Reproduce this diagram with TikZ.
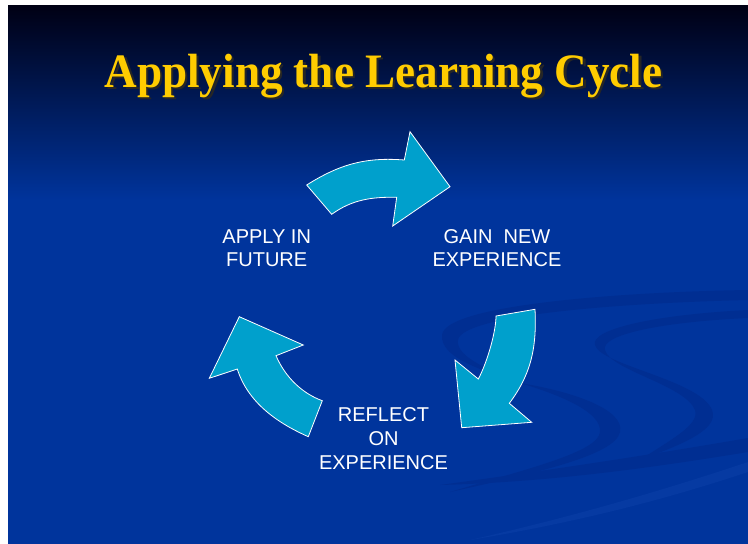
\documentclass[tikz,border=0pt]{standalone}
\usepackage{fontspec}
\setmainfont{Liberation Serif}
\setsansfont{Liberation Sans}
\definecolor{bgblue}{RGB}{0,52,156}
\definecolor{bgmid}{RGB}{0,30,96}
\definecolor{bgtop}{RGB}{0,0,20}
\definecolor{swdark}{RGB}{0,46,146}
\definecolor{swlight}{RGB}{6,58,162}
\definecolor{arrowfill}{RGB}{0,160,204}
\definecolor{titlegold}{RGB}{255,204,0}
\tikzset{
  blockarrow/.style={fill=arrowfill, draw=white, line width=0.8pt, line join=miter},
  swoosh/.style={fill=swdark},
  swooshlight/.style={fill=swlight},
  label/.style={font=\sffamily\fontsize{20}{23.5}\selectfont, text=white, align=center, inner sep=0pt},
  titletext/.style={font=\bfseries\fontsize{48}{48}\selectfont, inner sep=0pt, anchor=base}
}
\begin{document}
\begin{tikzpicture}[x=1pt,y=-1pt]
\useasboundingbox (0,0) rectangle (748,544);
\fill[white] (0,0) rectangle (748,544);
\fill[bgblue] (8,5) rectangle (748,544);
\shade[top color=bgtop, middle color=bgmid, bottom color=bgblue] (8,5) rectangle (748,200);
% decorative swooshes
\fill[swoosh] (748,290) .. controls (620,292) and (445,305) .. (442,335)
  .. controls (440,360) and (490,372) .. (525,385)
  .. controls (495,372) and (455,358) .. (458,340)
  .. controls (462,315) and (620,303) .. (748,300) -- cycle;
\fill[swoosh] (520,383) .. controls (575,392) and (625,410) .. (620,432)
  .. controls (615,455) and (540,472) .. (450,492)
  .. controls (530,468) and (598,452) .. (600,432)
  .. controls (602,412) and (560,395) .. (520,383) -- cycle;
\fill[swoosh] (748,310) .. controls (650,315) and (590,330) .. (595,345)
  .. controls (600,365) and (700,380) .. (712,410)
  .. controls (720,430) and (680,445) .. (640,460)
  .. controls (670,440) and (700,425) .. (695,410)
  .. controls (685,385) and (610,370) .. (605,350)
  .. controls (600,335) and (660,322) .. (748,318) -- cycle;
\fill[swoosh] (440,485) .. controls (550,470) and (650,455) .. (748,438)
  -- (748,452) .. controls (650,468) and (550,482) .. (440,485) -- cycle;
\fill[swooshlight] (470,540) .. controls (580,515) and (670,488) .. (748,462)
  -- (748,472) .. controls (670,498) and (580,522) .. (470,540) -- cycle;
% title
\node[titletext, text=black!85] (titleshadow) at (386,89.5) {\scalebox{0.94}[1]{Applying the Learning Cycle}};
\node[titletext, text=titlegold] (title) at (383.5,87) {\scalebox{0.94}[1]{Applying the Learning Cycle}};
% block arrows
\draw[blockarrow] (306.7,185) .. controls (340,164) and (366,157) .. (404.3,160)
  -- (410,131.7) -- (450,186.7) -- (392.7,226) -- (396.7,197.3)
  .. controls (371.7,196.8) and (352,199.6) .. (331.7,214.3) -- cycle;
\draw[blockarrow] (496,316) -- (535,309.3)
  .. controls (537,349.3) and (530.3,375.3) .. (509.3,403.3)
  -- (531.7,422.3) -- (461.7,427.7) -- (455,360) -- (478.3,379)
  .. controls (487.7,361.4) and (496,331) .. (496,316) -- cycle;
\draw[blockarrow] (239.3,316.7) -- (303.3,345) -- (276,355.7)
  .. controls (286,378.7) and (303.5,393.9) .. (322.3,400.7)
  -- (308.3,436.7)
  .. controls (276.8,422.7) and (247.8,402.3) .. (237.3,369)
  -- (209.3,378.3) -- cycle;
% labels (base anchor = baseline of last line)
\node[label, anchor=base] (apply) at (266.7,266.7) {APPLY IN\\FUTURE};
\node[label, anchor=base] (gain) at (497,266.7) {GAIN\ \ NEW\\EXPERIENCE};
\node[label, anchor=base, font=\sffamily\fontsize{20}{24}\selectfont] (reflect) at (383.5,469) {REFLECT\\ON\\EXPERIENCE};
\end{tikzpicture}
\end{document}
